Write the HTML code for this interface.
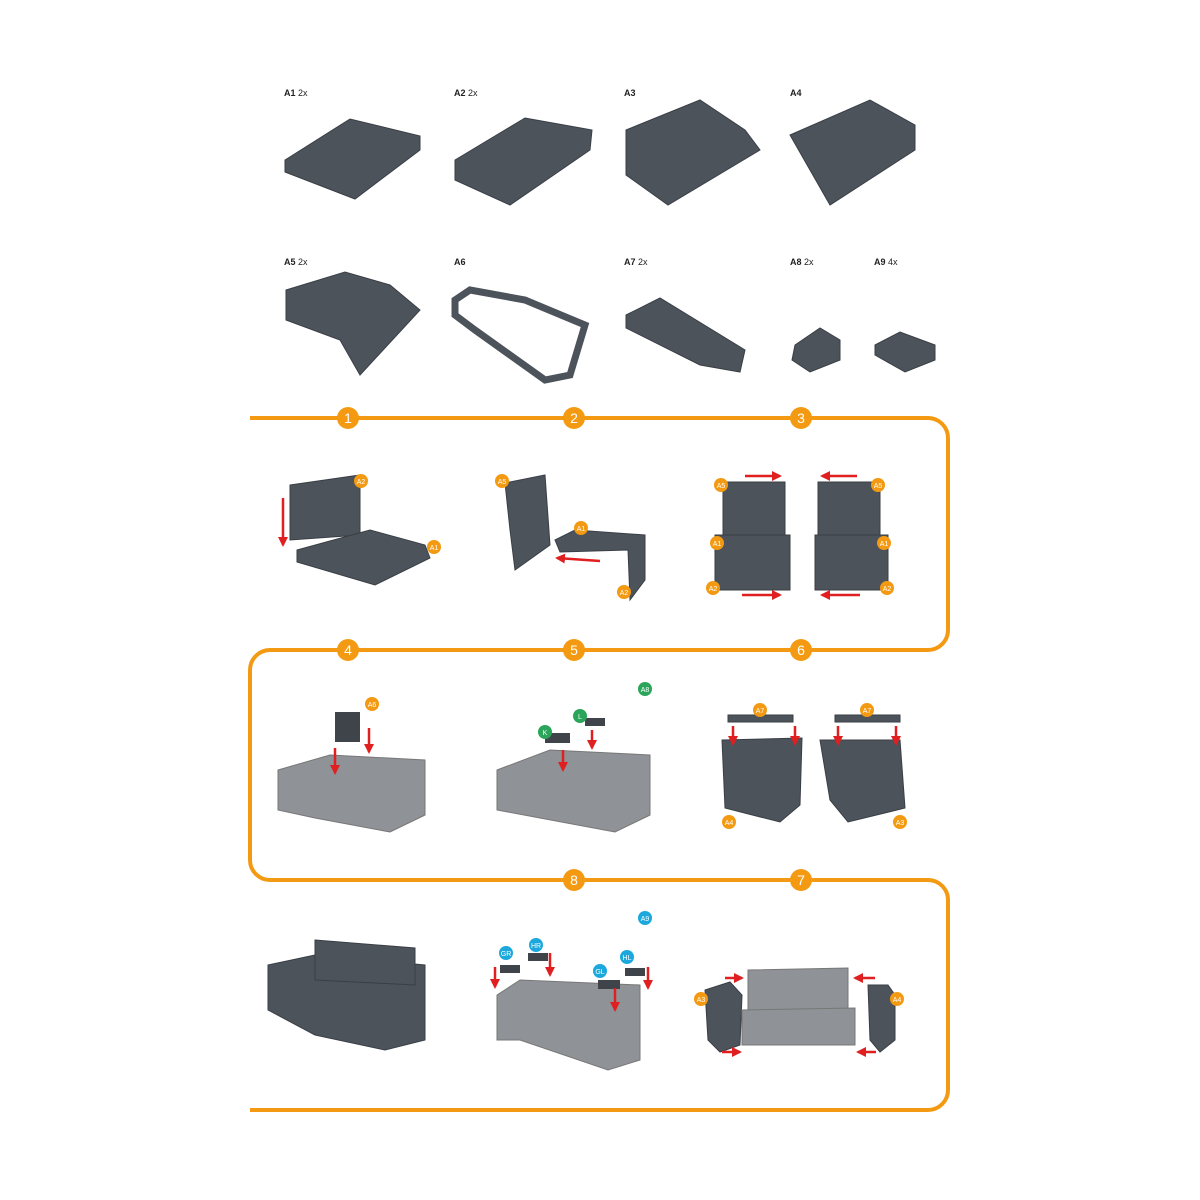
<!DOCTYPE html>
<html><head><meta charset="utf-8"><style>
html,body{margin:0;padding:0;background:#fff}
svg{display:block}
text{font-family:"Liberation Sans",sans-serif}
</style></head><body>
<svg width="1200" height="1200" viewBox="0 0 1200 1200" xmlns="http://www.w3.org/2000/svg">
<defs>
<marker id="ar" viewBox="0 0 10 10" refX="8" refY="5" markerWidth="4" markerHeight="4" orient="auto"><path d="M0,0L10,5L0,10z" fill="#e02020"/></marker>
</defs>
<!-- part labels -->
<g font-size="9" fill="#222">
<text x="284" y="96"><tspan font-weight="bold">A1</tspan> 2x</text>
<text x="454" y="96"><tspan font-weight="bold">A2</tspan> 2x</text>
<text x="624" y="96" font-weight="bold">A3</text>
<text x="790" y="96" font-weight="bold">A4</text>
<text x="284" y="265"><tspan font-weight="bold">A5</tspan> 2x</text>
<text x="454" y="265" font-weight="bold">A6</text>
<text x="624" y="265"><tspan font-weight="bold">A7</tspan> 2x</text>
<text x="790" y="265"><tspan font-weight="bold">A8</tspan> 2x</text>
<text x="874" y="265"><tspan font-weight="bold">A9</tspan> 4x</text>
</g>
<!-- parts -->
<g fill="#4d535b" stroke="#3a3f46" stroke-width="1">
<polygon points="285,160 350,119 420,136 420,150 355,199 285,172"/>
<polygon points="455,160 525,118 592,130 590,150 510,205 455,180"/>
<polygon points="626,130 700,100 745,130 760,150 668,205 626,175"/>
<polygon points="790,135 870,100 915,125 915,150 830,205 810,170"/>
<polygon points="286,290 345,272 390,285 420,310 360,375 340,340 286,320"/>
<polygon points="455,300 470,290 525,300 585,325 570,375 545,380 475,330 455,315" fill="none" stroke="#4d535b" stroke-width="7"/>
<polygon points="626,315 660,298 745,350 740,372 700,365 626,328"/>
<polygon points="795,345 820,328 840,340 840,360 810,372 792,360"/>
<polygon points="875,345 900,332 935,345 935,360 905,372 875,355"/>
<!-- step 1 -->
<polygon points="290,485 360,475 360,535 290,540"/>
<polygon points="297,550 370,530 425,545 430,558 375,585 297,562"/>
<!-- step 2 -->
<polygon points="505,483 545,475 550,545 515,570 510,530"/>
<polygon points="555,540 575,530 645,535 645,580 630,600 628,550 560,552"/>
<!-- step 3 -->
<polygon points="723,482 785,482 785,535 723,535"/>
<polygon points="715,535 790,535 790,590 715,590"/>
<polygon points="818,482 880,482 880,535 818,535"/>
<polygon points="815,535 888,535 888,590 815,590"/>
<!-- step 6 -->
<rect x="728" y="715" width="65" height="7"/>
<polygon points="722,740 802,738 800,805 780,822 725,808"/>
<rect x="835" y="715" width="65" height="7"/>
<polygon points="820,740 900,740 905,808 848,822 830,800"/>
<!-- step 8 sofa -->
<polygon points="268,965 315,955 425,965 425,1040 385,1050 315,1035 268,1010"/>
<polygon points="315,940 415,948 415,985 315,980"/>
<!-- step 7 arms -->
<polygon points="705,990 730,982 742,995 740,1045 720,1052 708,1040"/>
<polygon points="868,985 888,985 895,995 895,1040 880,1052 870,1040"/>
</g>
<g fill="#8f9297" stroke="#777" stroke-width="1">
<polygon points="278,770 330,755 425,760 425,815 390,832 315,818 278,810"/>
<polygon points="497,770 550,750 650,755 650,815 615,832 540,818 497,810"/>
<polygon points="497,995 520,980 640,985 640,1060 608,1070 520,1040 497,1040"/>
<polygon points="748,970 848,968 848,1010 748,1012"/>
<polygon points="742,1010 855,1008 855,1045 742,1045"/>
</g>
<g fill="#3f444b">
<rect x="335" y="712" width="25" height="30"/>
<rect x="545" y="733" width="25" height="10"/><rect x="585" y="718" width="20" height="8"/>
<rect x="500" y="965" width="20" height="8"/><rect x="528" y="953" width="20" height="8"/><rect x="598" y="980" width="22" height="9"/><rect x="625" y="968" width="20" height="8"/>
</g>
<!-- red arrows -->
<g stroke="#e02020" stroke-width="2.5" marker-end="url(#ar)" fill="none">
<line x1="283" y1="498" x2="283" y2="545"/>
<line x1="600" y1="561" x2="557" y2="558"/>
<line x1="745" y1="476" x2="780" y2="476"/><line x1="857" y1="476" x2="822" y2="476"/>
<line x1="742" y1="595" x2="780" y2="595"/><line x1="860" y1="595" x2="822" y2="595"/>
<line x1="335" y1="748" x2="335" y2="773"/><line x1="369" y1="728" x2="369" y2="752"/>
<line x1="563" y1="750" x2="563" y2="770"/><line x1="592" y1="730" x2="592" y2="748"/>
<line x1="733" y1="726" x2="733" y2="744"/><line x1="795" y1="726" x2="795" y2="744"/>
<line x1="838" y1="726" x2="838" y2="744"/><line x1="896" y1="726" x2="896" y2="744"/>
<line x1="495" y1="967" x2="495" y2="987"/><line x1="550" y1="953" x2="550" y2="975"/>
<line x1="615" y1="988" x2="615" y2="1010"/><line x1="648" y1="967" x2="648" y2="988"/>
<line x1="725" y1="978" x2="742" y2="978"/><line x1="875" y1="978" x2="855" y2="978"/>
<line x1="722" y1="1052" x2="740" y2="1052"/><line x1="876" y1="1052" x2="858" y2="1052"/>
</g>
<!-- orange path -->
<path d="M250,418 H928 A20,20 0 0 1 948,438 V630 A20,20 0 0 1 928,650 H270 A20,20 0 0 0 250,670 V860 A20,20 0 0 0 270,880 H928 A20,20 0 0 1 948,900 V1090 A20,20 0 0 1 928,1110 H250" fill="none" stroke="#f39a12" stroke-width="4"/>
<g fill="#f39a12">
<circle cx="348" cy="418" r="11"/><circle cx="574" cy="418" r="11"/><circle cx="801" cy="418" r="11"/>
<circle cx="348" cy="650" r="11"/><circle cx="574" cy="650" r="11"/><circle cx="801" cy="650" r="11"/>
<circle cx="574" cy="880" r="11"/><circle cx="801" cy="880" r="11"/>
</g>
<g fill="#fff" font-size="14" text-anchor="middle">
<text x="348" y="423">1</text><text x="574" y="423">2</text><text x="801" y="423">3</text>
<text x="348" y="655">4</text><text x="574" y="655">5</text><text x="801" y="655">6</text>
<text x="574" y="885">8</text><text x="801" y="885">7</text>
</g>
<!-- small badges -->
<g font-size="7" fill="#fff" text-anchor="middle">
<g fill="#f39a12">
<circle cx="361" cy="481" r="7"/><circle cx="434" cy="547" r="7"/><circle cx="502" cy="481" r="7"/><circle cx="581" cy="528" r="7"/><circle cx="624" cy="592" r="7"/>
<circle cx="721" cy="485" r="7"/><circle cx="717" cy="543" r="7"/><circle cx="713" cy="588" r="7"/><circle cx="878" cy="485" r="7"/><circle cx="884" cy="543" r="7"/><circle cx="887" cy="588" r="7"/>
<circle cx="372" cy="704" r="7"/><circle cx="760" cy="710" r="7"/><circle cx="867" cy="710" r="7"/><circle cx="729" cy="822" r="7"/><circle cx="900" cy="822" r="7"/>
<circle cx="701" cy="999" r="7"/><circle cx="897" cy="999" r="7"/>
</g>
<g fill="#2aa55a"><circle cx="645" cy="689" r="7"/><circle cx="545" cy="732" r="7"/><circle cx="580" cy="716" r="7"/></g>
<g fill="#1ba8dc"><circle cx="645" cy="918" r="7"/><circle cx="506" cy="953" r="7"/><circle cx="536" cy="945" r="7"/><circle cx="600" cy="971" r="7"/><circle cx="627" cy="957" r="7"/></g>
<text x="361" y="484">A2</text><text x="434" y="550">A1</text><text x="502" y="484">A5</text><text x="581" y="531">A1</text><text x="624" y="595">A2</text>
<text x="721" y="488">A5</text><text x="717" y="546">A1</text><text x="713" y="591">A2</text><text x="878" y="488">A5</text><text x="884" y="546">A1</text><text x="887" y="591">A2</text>
<text x="372" y="707">A6</text><text x="760" y="713">A7</text><text x="867" y="713">A7</text><text x="729" y="825">A4</text><text x="900" y="825">A3</text>
<text x="701" y="1002">A3</text><text x="897" y="1002">A4</text>
<text x="645" y="692">A8</text><text x="545" y="735">K</text><text x="580" y="719">L</text>
<text x="645" y="921">A9</text><text x="506" y="956">GR</text><text x="536" y="948">HR</text><text x="600" y="974">GL</text><text x="627" y="960">HL</text>
</g>
</svg>
</body></html>
